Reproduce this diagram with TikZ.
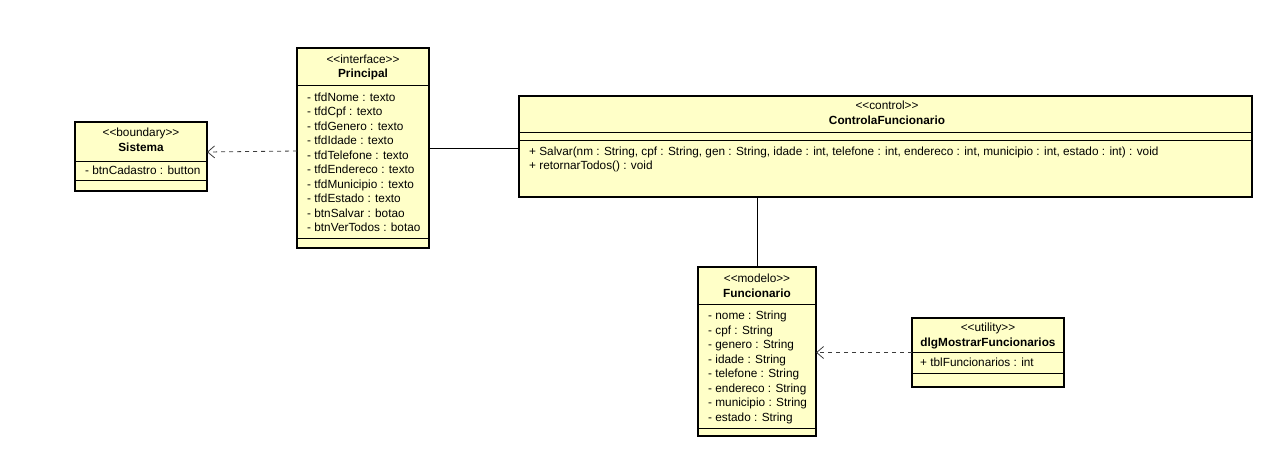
\documentclass[tikz,border=0pt]{standalone}
\usepackage{fontspec}
\setmainfont{Liberation Sans}
\usetikzlibrary{arrows.meta}
\definecolor{umlfill}{RGB}{255,255,200}
\definecolor{dep}{RGB}{60,60,60}
\newcommand{\stq}[1]{<{}<#1>{}>}
\begin{document}
\begin{tikzpicture}[x=1pt,y=-1pt,
  umlbox/.style={draw=black,line width=2pt,fill=umlfill,inner sep=0pt,outer sep=0pt},
  sep/.style={line width=1pt,draw=black},
  txt/.style={inner sep=0pt,yshift=-1pt,font=\fontsize{11.8}{13}\selectfont,text height=8pt,text depth=2.5pt},
  row/.style={txt,anchor=west},
  ster/.style={txt},
  cname/.style={txt,font=\fontsize{11.8}{13}\selectfont\bfseries},
  assoc/.style={line width=0.8pt,draw=black},
  depline/.style={line width=0.8pt,draw=dep,dash pattern=on 4pt off 4pt,-{Straight Barb[length=7pt,width=12pt,line width=0.8pt]}}
]
\useasboundingbox (0,0) rectangle (1263,452);

% Sistema
\node[umlbox,minimum width=132pt,minimum height=69pt] (sis) at (141,156.5) {};
\draw[sep] (75,161) -- (207,161);
\draw[sep] (75,180) -- (207,180);
\node[ster] (sisS) at (141,133) {\stq{boundary}};
\node[cname] (sisN) at (141,148) {Sistema};
\node[row] (sisA1) at (85,171) {- btnCadastro : button};

% Principal
\node[umlbox,minimum width=132pt,minimum height=200pt] (pri) at (363,148) {};
\draw[sep] (297,85) -- (429,85);
\draw[sep] (297,238) -- (429,238);
\node[ster] (priS) at (363,60) {\stq{interface}};
\node[cname] (priN) at (363,74) {Principal};
\node[row] (priA1) at (307,97.5) {- tfdNome : texto};
\node[row] (priA2) at (307,112) {- tfdCpf : texto};
\node[row] (priA3) at (307,126.5) {- tfdGenero : texto};
\node[row] (priA4) at (307,141) {- tfdIdade : texto};
\node[row] (priA5) at (307,155.5) {- tfdTelefone : texto};
\node[row] (priA6) at (307,170) {- tfdEndereco : texto};
\node[row] (priA7) at (307,184.5) {- tfdMunicipio : texto};
\node[row] (priA8) at (307,199) {- tfdEstado : texto};
\node[row] (priA9) at (307,213.5) {- btnSalvar : botao};
\node[row] (priA10) at (307,228) {- btnVerTodos : botao};

% ControlaFuncionario
\node[umlbox,minimum width=733pt,minimum height=101pt] (ctl) at (885.5,146.5) {};
\draw[sep] (519,132) -- (1252,132);
\draw[sep] (519,140) -- (1252,140);
\node[ster] (ctlS) at (887,106) {\stq{control}};
\node[cname] (ctlN) at (887,120.5) {ControlaFuncionario};
\node[row] (ctlM1) at (529,151.5) {+ Salvar(nm : String, cpf : String, gen : String, idade : int, telefone : int, endereco : int, municipio : int, estado : int) : void};
\node[row] (ctlM2) at (529,166) {+ retornarTodos() : void};

% Funcionario
\node[umlbox,minimum width=118pt,minimum height=169pt] (fun) at (757,351.5) {};
\draw[sep] (698,304) -- (816,304);
\draw[sep] (698,428) -- (816,428);
\node[ster] (funS) at (757,279) {\stq{modelo}};
\node[cname] (funN) at (757,293.5) {Funcionario};
\node[row] (funA1) at (708,316) {- nome : String};
\node[row] (funA2) at (708,330.5) {- cpf : String};
\node[row] (funA3) at (708,345) {- genero : String};
\node[row] (funA4) at (708,359.5) {- idade : String};
\node[row] (funA5) at (708,374) {- telefone : String};
\node[row] (funA6) at (708,388.5) {- endereco : String};
\node[row] (funA7) at (708,403) {- municipio : String};
\node[row] (funA8) at (708,417.5) {- estado : String};

% dlgMostrarFuncionarios
\node[umlbox,minimum width=152pt,minimum height=69pt] (dlg) at (988,352.5) {};
\draw[sep] (912,352) -- (1064,352);
\draw[sep] (912,373) -- (1064,373);
\node[ster] (dlgS) at (988,328) {\stq{utility}};
\node[cname] (dlgN) at (988,343) {dlgMostrarFuncionarios};
\node[row] (dlgA1) at (920,362.5) {+ tblFuncionarios : int};

% connectors
\draw[depline] ([yshift=-3pt]pri.west) -- ([yshift=4.5pt]sis.east);
\draw[assoc] (pri.east) -- (pri.east -| ctl.west);
\draw[assoc] (fun.north) -- (fun.north |- ctl.south);
\draw[depline] (dlg.west) -- (dlg.west -| fun.east);
\end{tikzpicture}
\end{document}
